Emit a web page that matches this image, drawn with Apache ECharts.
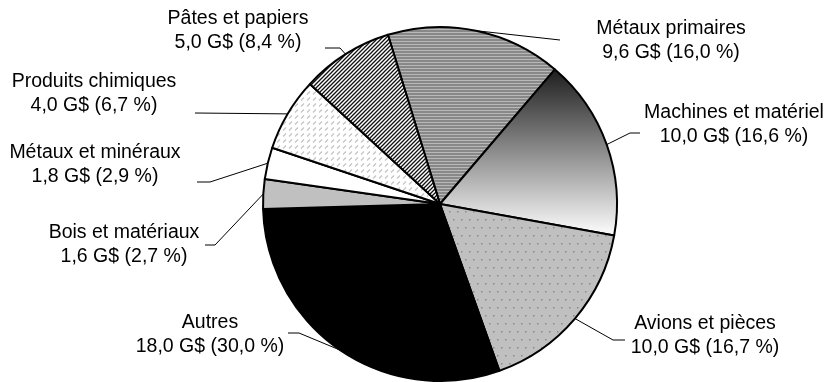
<!DOCTYPE html>
<html>
<head>
<meta charset="utf-8">
<script src="https://cdn.jsdelivr.net/npm/echarts@6/dist/echarts.min.js"></script>
<style>
  html, body { margin: 0; padding: 0; background: #fff; }
  #chart { width: 832px; height: 382px; }
</style>
</head>
<body>
<div id="chart"></div>
<script>
// données (G$ et part en %)
var categories = ['Métaux primaires', 'Machines et matériel', 'Avions et pièces', 'Autres',
  'Bois et matériaux', 'Métaux et minéraux', 'Produits chimiques', 'Pâtes et papiers']
var valuesGD = [9.6, 10.0, 10.0, 18.0, 1.6, 1.8, 4.0, 5.0]
var shares = [16.0, 16.6, 16.7, 30.0, 2.7, 2.9, 6.7, 8.4]

// placement des étiquettes : centre du bloc de texte, puis points du trait de rappel
var labelCenters = [[671, 41], [734, 125], [705, 336], [210, 335],
  [124, 245], [95, 165], [94, 94], [238, 31]]
var leaderPoints = [
  [[560, 40]],
  [[630, 133], [640, 133]],
  [[613, 340], [625, 340]],
  [[299, 333], [288, 333]],
  [[215, 245], [205, 245]],
  [[210, 182], [197, 182]],
  [[195, 113]],
  [[340, 48], [325, 48]]
]

function fr(v) {
  return v.toFixed(1).replace('.', ',')
}

function makePattern(w, h, draw) {
  var c = document.createElement('canvas')
  c.width = w
  c.height = h
  var ctx = c.getContext('2d')
  draw(ctx, w, h)
  return { image: c, repeat: 'repeat' }
}

var hLines = makePattern(1, 3, function (ctx) {
  ctx.fillStyle = '#888888'
  ctx.fillRect(0, 0, 1, 2)
  ctx.fillStyle = '#b8b8b8'
  ctx.fillRect(0, 2, 1, 1)
})
var dots = makePattern(8, 16, function (ctx, w, h) {
  ctx.fillStyle = '#c0c0c0'
  ctx.fillRect(0, 0, w, h)
  ctx.fillStyle = '#8a8a8a'
  ctx.fillRect(1, 3, 1.5, 1.5)
  ctx.fillRect(5, 11, 1.5, 1.5)
})
var dashes = makePattern(6, 6, function (ctx, w, h) {
  ctx.fillStyle = '#fff'
  ctx.fillRect(0, 0, w, h)
  ctx.strokeStyle = '#c4c4c4'
  ctx.lineWidth = 1.2
  ctx.beginPath()
  ctx.moveTo(1, 4.5)
  ctx.lineTo(4, 1.5)
  ctx.stroke()
})
var diag = makePattern(4, 4, function (ctx, w, h) {
  ctx.fillStyle = '#fff'
  ctx.fillRect(0, 0, w, h)
  ctx.strokeStyle = '#111'
  ctx.lineWidth = 1.3
  ctx.beginPath()
  ctx.moveTo(0, h); ctx.lineTo(w, 0)
  ctx.moveTo(-1, 1); ctx.lineTo(1, -1)
  ctx.moveTo(w - 1, h + 1); ctx.lineTo(w + 1, h - 1)
  ctx.stroke()
})
var gradient = new echarts.graphic.LinearGradient(0, 0, 0, 1, [
  { offset: 0, color: '#1c1c1c' },
  { offset: 1, color: '#ffffff' }
])

var fills = [hLines, gradient, dots, '#000000', '#c0c0c0', '#ffffff', dashes, diag]

var chart = echarts.init(document.getElementById('chart'), null, { renderer: 'canvas' })

chart.setOption({
  animation: false,
  backgroundColor: '#fff',
  series: [{
    type: 'pie',
    center: [440, 204],
    radius: 177,
    startAngle: 107.1,
    clockwise: true,
    silent: true,
    avoidLabelOverlap: false,
    itemStyle: { borderColor: '#000', borderWidth: 2 },
    label: {
      show: true,
      position: 'outside',
      color: '#000',
      fontFamily: 'Liberation Sans, Arial, sans-serif',
      fontSize: 19.5,
      lineHeight: 24,
      align: 'center',
      formatter: function (p) {
        var i = p.dataIndex
        return categories[i] + '\n' + fr(valuesGD[i]) + ' G$ (' + fr(shares[i]) + ' %)'
      }
    },
    labelLine: { show: true, length: 10, length2: 10, lineStyle: { color: '#000', width: 1 } },
    labelLayout: function (p) {
      var i = p.dataIndex
      var start = p.labelLinePoints ? p.labelLinePoints[0] : leaderPoints[i][0]
      return {
        x: labelCenters[i][0],
        y: labelCenters[i][1],
        align: 'center',
        verticalAlign: 'middle',
        labelLinePoints: [start].concat(leaderPoints[i])
      }
    },
    data: categories.map(function (name, i) {
      return { name: name, value: shares[i], itemStyle: { color: fills[i] } }
    })
  }]
})
</script>
</body>
</html>
